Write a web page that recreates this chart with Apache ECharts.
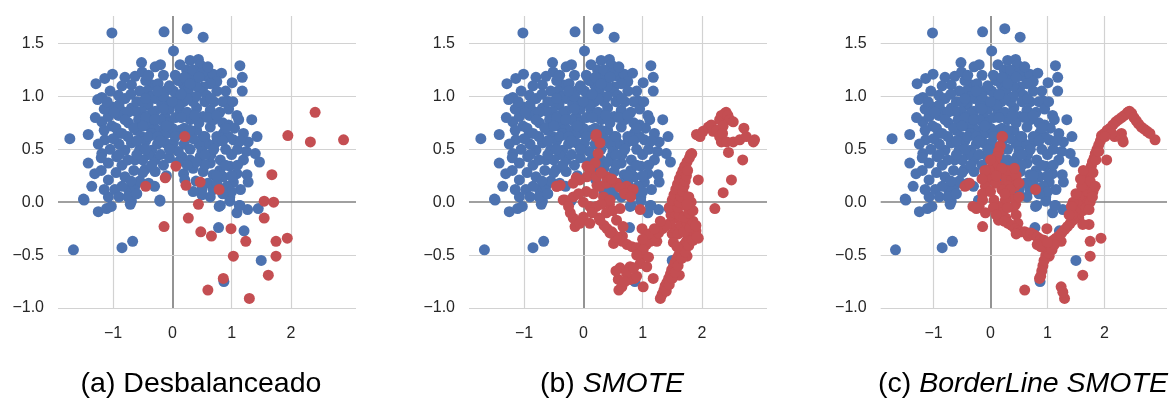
<!DOCTYPE html>
<html>
<head>
<meta charset="utf-8">
<script src="https://cdn.jsdelivr.net/npm/echarts@6.0.0/dist/echarts.min.js"></script>
<style>
html, body { margin: 0; padding: 0; background: #fff; }
#chart { width: 1170px; height: 399px; }
</style>
</head>
<body>
<div id="chart"></div>
<script>
// clase mayoritaria (igual en los tres paneles)
const mayoria = [
  [-1.02,1.60],[-0.14,1.61],[0.25,1.64],[0.52,1.56],[0.02,1.43],
  [-0.52,1.32],[-0.29,1.28],[-1.01,1.21],[-1.14,1.17],[-1.29,1.12],[-0.80,1.18],[-0.63,1.19],[-0.51,1.23],[-0.69,1.11],
  [-1.19,0.99],[-1.26,0.97],[-0.91,1.01],[-0.80,0.98],[-1.02,0.90],[-0.69,0.89],[-0.35,1.11],[-0.24,1.12],[-0.43,1.05],
  [-0.29,0.98],[-0.12,1.05],[-0.07,0.95],[-0.18,0.92],[-0.41,0.92],[-0.52,0.86],[-0.29,0.86],
  [0.13,1.30],[0.30,1.34],[0.44,1.35],[0.47,1.30],[0.24,1.25],[0.33,1.19],[0.58,1.19],[0.69,1.21],[0.83,1.22],[0.75,1.14],
  [0.64,1.12],[0.52,1.09],[1.14,1.29],[1.18,1.18],[1.18,1.05],[1.01,1.13],[0.92,0.96],[0.19,1.11],[0.27,1.06],[0.07,0.98],
  [0.02,1.05],[0.19,0.95],[0.47,1.05],[0.58,1.01],[0.41,0.89],[0.64,0.87],[0.13,0.87],[1.09,0.82],
  [-1.73,0.60],[-1.42,0.64],[-1.19,0.76],[-1.08,0.81],[-0.91,0.82],[-1.02,0.72],[-1.14,0.59],[-0.91,0.65],[-1.19,0.46],
  [-1.42,0.37],[-1.31,0.27],[-1.36,0.15],[-1.50,0.03],[-1.08,0.21],[-1.08,0.05],[-0.97,0.12],[-0.80,0.24],[-0.74,0.12],
  [-0.69,0.01],[-1.08,0.37],[-0.94,0.43],[-0.80,0.49],[-0.63,0.40],[-0.69,0.56],[-0.52,0.62],[-0.35,0.49],[-0.29,0.40],
  [-0.46,0.31],[-0.29,0.29],[-0.12,0.56],[-0.18,0.68],[-0.41,0.72],[-0.57,0.78],[-0.74,0.75],[-0.85,0.86],[-0.63,0.86],
  [-0.35,0.84],[-0.12,0.81],[-0.07,0.75],[-0.21,0.02],[-0.63,0.15],
  [1.12,0.78],[1.34,0.78],[1.43,0.62],[1.28,0.57],[1.40,0.46],[1.47,0.38],[1.20,0.40],[0.95,0.73],[0.86,0.65],[1.03,0.59],
  [0.75,0.57],[0.52,0.62],[0.41,0.68],[0.64,0.71],[0.52,0.81],[0.30,0.78],[0.13,0.68],[0.02,0.56],[0.16,0.43],[0.30,0.40],
  [0.47,0.43],[0.64,0.37],[0.81,0.40],[0.97,0.34],[1.09,0.27],[1.26,0.26],[1.28,0.19],[1.03,0.19],[0.86,0.24],[0.69,0.26],
  [0.52,0.29],[0.35,0.32],[0.19,0.27],[0.21,0.21],[0.69,0.12],[0.92,0.15],[0.97,0.05],[0.81,-0.03],[1.14,-0.03],[0.64,0.05],
  [0.50,0.07],
  [-1.67,-0.45],[-0.85,-0.43],[-0.67,-0.37],[0.78,-0.24],[1.21,-0.27],[1.50,-0.55],[0.87,-0.75],[-1.49,0.02],[-1.25,-0.09],
  [-0.21,0.01],[-0.71,-0.02],[-1.11,-0.06],[-1.03,-0.04],[0.97,0.01],[0.79,-0.04],[1.09,-0.10],[1.27,-0.07],[1.45,-0.06],
  [1.13,-0.03],
  [-0.90,0.55],[-0.75,0.62],[-0.60,0.68],[-0.45,0.58],[-0.55,0.50],[-0.40,0.45],[-0.25,0.55],[-0.20,0.45],[-0.10,0.65],
  [-0.30,0.70],[-0.20,0.78],[-0.05,0.88],[0.05,0.80],[-0.45,0.80],[-0.60,0.95],[-0.35,1.00],[-0.15,1.00],[0.10,0.92],
  [0.25,0.85],[0.35,0.95],[0.40,1.10],[0.55,0.95],[0.70,0.95],[0.80,0.85],[0.70,0.78],[0.85,0.75],[0.60,0.55],[0.45,0.55],
  [0.35,0.60],[0.20,0.55],[0.10,0.48],[0.65,0.45],[0.55,0.35],[0.90,0.50],[1.00,0.45],[1.10,0.50],[1.10,0.35],[0.80,0.30],
  [0.40,0.20],[0.60,0.18],[0.75,0.18],[1.15,0.12],[1.00,0.10],[0.85,0.08],[-0.50,0.40],[-0.65,0.30],[-0.85,0.35],
  [-0.95,0.28],[-0.55,0.20],[-0.40,0.18],[-0.15,0.35],[-0.05,0.42],[-0.10,0.25],[-0.85,0.15],[-0.90,0.05],[-0.75,0.05],
  [-0.60,0.08],[-1.20,0.30],[-1.25,0.55],[-1.05,0.50],[-0.95,0.70],[-0.75,0.85],[-0.50,0.95],[-0.35,0.65],[0.00,0.70],
  [0.00,0.95],[-0.45,1.15],[-0.15,1.20],[0.10,1.15],[0.35,1.25],[0.50,1.22],[0.90,1.05],[0.85,0.95],[0.30,0.50],
  [0.50,0.48],[0.75,0.62],[0.95,0.62],[1.20,0.65],[1.15,0.58],[-1.30,0.80],[-1.15,0.88],[-0.30,0.15],[-0.90,0.92],
  [-0.55,1.05],[-0.40,1.20],[-0.20,1.30],[0.05,1.20],[0.20,1.18],[0.45,1.18],[0.60,1.28],[0.75,1.05],[0.65,0.98],
  [0.40,1.00],[0.25,0.98],[0.15,1.02],[-0.05,1.10],[-0.25,1.05],[-0.45,0.98],[-0.70,1.02],[-0.85,1.10],[-1.05,1.05],
  [-1.10,0.95],[-0.98,0.85],[-0.80,0.78],[-0.65,0.70],[-0.50,0.72],[-0.40,0.62],[-0.25,0.62],[-0.10,0.72],[0.05,0.62],
  [0.20,0.70],[0.30,0.68],[0.45,0.75],[0.60,0.80],[0.75,0.82],[0.85,0.58],[0.70,0.50],[0.55,0.45],[0.40,0.38],
  [0.25,0.35],[0.10,0.38],[-0.05,0.50],[-0.20,0.58],[-0.45,0.50],[-0.60,0.45],[-0.75,0.40],[-0.90,0.45],[-1.00,0.60],
  [-1.15,0.68],[-0.70,0.20],[-0.50,0.28],[-0.35,0.35],[0.90,0.35],[1.00,0.25],[0.75,0.25],[0.95,0.88],[1.05,0.70],
  [1.25,0.48],[0.50,0.12],[0.35,0.10],[-1.15,0.12],[-1.20,0.42],[0.55,0.62],[0.15,0.80],[-0.30,0.78],[-0.60,0.58],
  [0.38,0.82],[0.90,0.70],[1.02,0.95],[-0.85,0.65],[-0.15,0.88],[0.30,1.12]
];

// clase minoritaria original
const minoria = [
  [0.21,0.62],[2.41,0.85],[1.95,0.63],[2.33,0.57],[2.89,0.59],[0.06,0.34],[1.68,0.26],[-0.12,0.23],[-0.45,0.15],
  [0.23,0.16],[0.47,0.19],[0.79,0.12],[1.55,0.01],[1.71,0.00],[0.44,-0.02],[0.27,-0.15],[-0.14,-0.23],[1.55,-0.15],
  [0.48,-0.28],[0.66,-0.32],[0.99,-0.25],[1.24,-0.37],[1.75,-0.37],[1.94,-0.34],[1.03,-0.51],[1.75,-0.51],[1.62,-0.69],
  [0.86,-0.72],[0.60,-0.83],[1.30,-0.91]
];

// muestras sinteticas SMOTE
const sinteticosSmote = [
  [1.91,0.64],[1.97,0.62],[2.02,0.67],[2.11,0.71],[2.16,0.73],[2.19,0.67],[2.25,0.68],[2.30,0.62],[2.30,0.78],[2.33,0.82],
  [2.39,0.84],[2.44,0.82],[2.47,0.78],[2.53,0.76],[2.36,0.72],[2.35,0.65],[2.42,0.57],[2.53,0.57],[2.64,0.59],[2.75,0.62],
  [2.87,0.57],[2.71,0.70],[2.45,0.47],[2.69,0.40],[2.50,0.21],[2.36,0.09],[2.22,-0.06],[1.94,0.21],[1.81,0.45],
  [1.33,-0.87],[1.36,-0.83],[1.38,-0.79],[1.41,-0.76],[1.44,-0.72],[1.47,-0.68],[1.49,-0.64],[1.52,-0.61],[1.55,-0.57],
  [1.58,-0.53],[1.61,-0.50],[1.64,-0.46],[1.67,-0.43],[1.70,-0.40],[1.74,-0.37],[1.78,-0.34],[1.82,-0.31],[1.86,-0.29],
  [1.90,-0.27],[1.40,-0.84],[1.45,-0.78],[1.50,-0.72],[1.55,-0.66],[1.60,-0.60],[1.66,-0.53],[1.72,-0.47],[1.78,-0.41],
  [1.85,-0.36],[1.92,-0.33],
  [1.50,-0.30],[1.55,-0.25],[1.60,-0.30],[1.65,-0.22],[1.70,-0.28],[1.75,-0.20],[1.80,-0.24],[1.85,-0.18],[1.90,-0.22],
  [1.52,-0.38],[1.58,-0.42],[1.46,-0.20],[1.48,-0.12],[1.55,-0.10],[1.62,-0.12],[1.70,-0.14],[1.78,-0.10],[1.85,-0.08],
  [1.45,-0.05],[1.60,-0.05],[1.72,-0.03],[1.82,0.00],
  [1.50,0.02],[1.53,0.07],[1.56,0.12],[1.59,0.17],[1.62,0.22],[1.65,0.26],[1.68,0.30],[1.71,0.34],[1.75,0.38],[1.79,0.42],
  [1.83,0.46],[1.62,0.00],[1.65,0.05],[1.68,0.10],[1.70,0.15],[1.72,0.20],[1.74,0.25],[1.76,0.30],[1.78,0.05],[1.75,-0.02],
  [0.50,-0.30],[0.58,-0.34],[0.66,-0.37],[0.74,-0.40],[0.82,-0.42],[0.90,-0.43],[0.98,-0.42],[1.06,-0.40],[1.13,-0.37],
  [1.20,-0.33],[1.27,-0.29],[1.34,-0.25],[1.40,-0.22],[1.10,-0.30],[1.20,-0.25],[1.30,-0.18],[1.00,-0.35],
  [0.62,-0.62],[0.59,-0.73],[0.65,-0.80],[0.79,-0.73],[0.79,-0.61],[0.96,-0.58],[1.07,-0.61],[1.18,-0.72],[1.01,-0.80],
  [0.90,-0.70],[0.73,-0.67],[0.96,-0.48],[1.01,-0.45],[0.90,-0.50],[0.70,-0.75],[0.85,-0.62],[1.10,-0.52],[0.55,-0.65],
  [0.51,-0.39],[0.56,-0.33],[0.45,-0.29],[0.40,-0.25],[0.35,-0.22],
  [0.22,0.64],[0.28,0.56],[0.25,0.46],[0.20,0.37],[0.11,0.31],[0.06,0.24],[-0.06,0.21],[-0.17,0.18],[-0.39,0.16],
  [-0.34,0.02],[-0.17,0.05],[-0.17,-0.15],[0.00,-0.14],[0.11,-0.04],[0.17,0.08],[0.28,0.15],[0.39,0.18],[0.56,0.18],
  [0.73,0.15],[0.84,0.12],[0.39,0.24],[0.22,0.24],[0.34,0.05],[0.45,0.02],[0.22,-0.04],[0.39,-0.10],[0.56,-0.17],
  [0.67,-0.23],[0.28,-0.17],[0.11,-0.20],[-0.06,-0.20],[-0.22,-0.10],[-0.45,0.15],[-0.31,0.02],[-0.25,-0.04],[0.30,0.28],
  [0.48,0.22],[0.62,0.14],[0.05,0.10],[0.00,0.00],[-0.08,0.08],[0.30,-0.02],[0.15,-0.10],[0.50,-0.08],[0.62,-0.06],
  [0.96,-0.07],[0.70,0.08],[0.80,0.05]
];

// muestras sinteticas BorderLine SMOTE
const sinteticosBorderline = [
  [2.44,0.86],[2.40,0.84],[2.35,0.82],[2.30,0.80],[2.25,0.78],[2.20,0.76],[2.15,0.73],[2.10,0.70],[2.05,0.68],[2.00,0.65],
  [1.96,0.62],[1.93,0.58],[1.90,0.54],[1.87,0.50],[1.84,0.46],[1.82,0.42],[1.79,0.38],[1.77,0.34],[1.74,0.30],[1.72,0.26],
  [1.70,0.22],[1.67,0.18],[1.65,0.14],[1.63,0.10],[1.61,0.06],[1.59,0.02],[1.57,-0.02],[1.55,-0.06],[1.52,-0.10],
  [1.49,-0.14],[1.45,-0.17],[1.40,-0.20],[1.35,-0.23],[1.30,-0.26],[1.25,-0.29],[1.20,-0.32],[1.15,-0.34],[1.10,-0.36],
  [1.75,0.20],[1.70,0.10],[1.66,0.00],[1.62,-0.08],[1.80,0.28],[1.60,0.15],[1.55,0.05],[1.52,-0.02],[1.48,-0.08],
  [1.43,-0.12],[1.85,0.40],[1.90,0.48],[1.45,0.00],[1.50,0.08],[1.42,-0.04],[1.68,-0.05],[1.75,0.00],[1.80,0.10],
  [1.58,0.22],[1.63,0.30],[1.38,-0.12],
  [2.48,0.84],[2.52,0.80],[2.56,0.77],[2.60,0.74],[2.65,0.71],[2.70,0.69],[2.75,0.67],[2.80,0.65],
  [2.32,0.59],[2.30,0.65],[2.18,0.62],[2.13,0.65],[2.01,0.62],[2.04,0.40],[1.84,0.15],[1.79,0.05],[1.73,-0.07],
  [1.73,-0.21],[1.62,-0.21],
  [1.05,-0.40],[1.00,-0.45],[0.97,-0.50],[0.94,-0.55],[0.92,-0.60],[0.90,-0.65],[0.88,-0.70],[1.02,-0.48],[0.95,-0.42],
  [1.08,-0.45],[1.12,-0.40],[1.24,-0.80],[1.27,-0.85],
  [0.20,0.62],[0.17,0.53],[0.14,0.48],[0.11,0.43],[0.08,0.38],[0.06,0.34],[0.03,0.27],[-0.03,0.21],[-0.09,0.15],
  [-0.14,0.08],[-0.14,0.02],[-0.20,-0.04],[-0.09,-0.10],[-0.43,0.16],[-0.37,0.18],[-0.31,-0.04],[-0.25,-0.06],
  [0.14,0.27],[0.26,0.24],[0.37,0.21],[0.43,0.15],[0.31,0.15],[0.20,0.12],[0.09,0.18],[-0.03,0.31],[0.00,0.40],
  [0.37,0.05],[0.26,0.02],[0.14,-0.04],[0.06,0.02],[0.20,-0.10],[0.14,-0.17],[0.30,0.30],[0.20,0.32],[0.10,0.25],
  [0.35,0.12],[0.25,0.08],[0.05,-0.05],[0.00,0.10],[0.40,-0.05],[0.45,-0.12],[0.48,-0.20],
  [0.45,0.25],[0.50,0.18],[0.50,0.05],[0.42,0.32],[-0.10,0.30],[-0.15,0.22],[0.30,-0.05],[0.10,-0.12],
  [0.25,-0.18],[0.31,-0.20],[0.37,-0.22],[0.43,-0.25],[0.49,-0.27],[0.54,-0.28],[0.60,-0.28],[0.66,-0.29],[0.71,-0.29],
  [0.77,-0.31],[0.82,-0.33],[0.88,-0.35],[0.94,-0.36],[0.82,-0.40],[0.88,-0.42],[1.00,-0.38],[0.45,-0.30]
];

const titulos = ['(a) Desbalanceado', '(b) {i|SMOTE}', '(c) {i|BorderLine SMOTE}'];
const xTicks = [-1, 0, 1, 2];
const yTicks = [-1, -0.5, 0, 0.5, 1, 1.5];
const rojosPorPanel = [
  minoria,
  minoria.concat(sinteticosSmote),
  minoria.concat(sinteticosBorderline)
];

const AZUL = '#4c72b0';
const ROJO = '#c44e52';
const FUENTE = '"Liberation Sans", Arial, sans-serif';
const panelLeft = [58, 469, 880.7];
const panelCentro = [201, 612, 1023];

const menos = s => s.replace('-', '\u2212');

const grid = [], xAxis = [], yAxis = [], series = [], graphic = [];

panelLeft.forEach((left, i) => {
  grid.push({ left: left, top: 16, width: 298, height: 292 });

  xAxis.push({
    gridIndex: i, type: 'value', min: -1.93, max: 3.1,
    axisLine: { show: false }, axisTick: { show: false }, splitLine: { show: false },
    axisLabel: {
      margin: 18, fontSize: 16, color: '#262626', fontFamily: FUENTE,
      formatter: v => xTicks.some(t => Math.abs(t - v) < 1e-6) ? menos(String(Math.round(v))) : ''
    }
  });
  yAxis.push({
    gridIndex: i, type: 'value', min: -1, max: 1.76, interval: 0.5,
    axisLine: { show: false }, axisTick: { show: false }, splitLine: { show: false },
    axisLabel: {
      margin: 14, fontSize: 16, color: '#262626', fontFamily: FUENTE,
      formatter: v => yTicks.some(t => Math.abs(t - v) < 1e-6) ? menos(v.toFixed(1)) : ''
    }
  });

  // rejilla y ejes en cero
  const lineas = [];
  xTicks.forEach(t => lineas.push({
    xAxis: t,
    lineStyle: t === 0 ? { color: '#808080', width: 1.7, type: 'solid' } : { color: '#d2d2d2', width: 1.2, type: 'solid' }
  }));
  yTicks.forEach(t => lineas.push({
    yAxis: t,
    lineStyle: t === 0 ? { color: '#808080', width: 1.7, type: 'solid' } : { color: '#d2d2d2', width: 1.2, type: 'solid' }
  }));

  series.push({
    type: 'scatter', xAxisIndex: i, yAxisIndex: i, z: 3,
    data: mayoria, symbolSize: 11,
    itemStyle: { color: AZUL, opacity: 1 },
    markLine: {
      z: 1, silent: true, symbol: ['none', 'none'], animation: false,
      label: { show: false }, data: lineas
    }
  });
  series.push({
    type: 'scatter', xAxisIndex: i, yAxisIndex: i, z: 4,
    data: rojosPorPanel[i], symbolSize: 11,
    itemStyle: { color: ROJO, opacity: 1 }
  });

  graphic.push({
    type: 'text', x: panelCentro[i], y: 384, silent: true,
    style: {
      text: titulos[i], fontSize: 28.5, fontFamily: FUENTE, fill: '#000',
      align: 'center', verticalAlign: 'middle', textAlign: 'center', textVerticalAlign: 'middle',
      rich: { i: { fontStyle: 'italic', fontSize: 28.5, fontFamily: FUENTE, fill: '#000' } }
    }
  });
});

const myChart = echarts.init(document.getElementById('chart'));
myChart.setOption({
  animation: false,
  backgroundColor: '#fff',
  grid: grid,
  xAxis: xAxis,
  yAxis: yAxis,
  series: series,
  graphic: graphic
});
</script>
</body>
</html>
